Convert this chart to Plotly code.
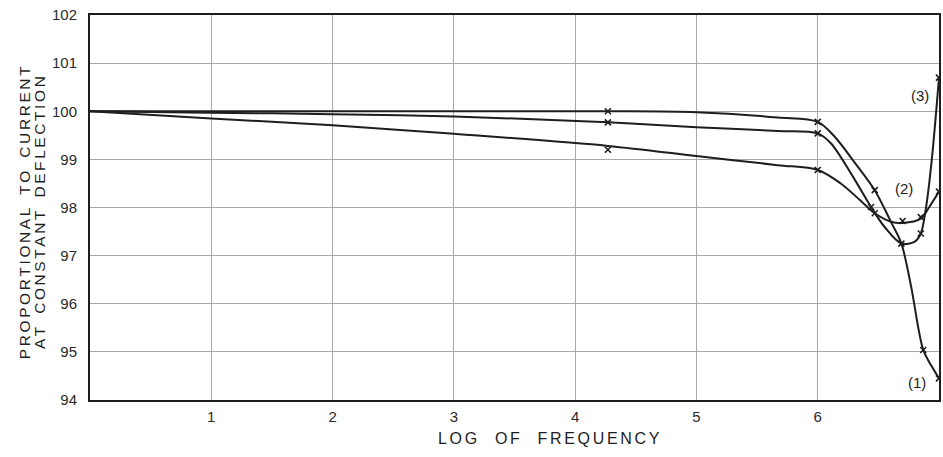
import plotly.graph_objects as go

# ---- data ----
x_c1 = [0, 1, 2, 3, 4.27, 5, 5.67, 6, 6.14, 6.3, 6.47, 6.61, 6.69, 6.77, 6.87, 6.94, 7]
y_c1 = [100, 100, 100, 100, 100, 99.98, 99.87, 99.78, 99.47, 98.95, 98.36, 97.67, 97.25, 96.36, 95.04, 94.70, 94.45]

x_c3 = [0, 1, 2, 3, 4.27, 5, 5.67, 6, 6.11, 6.3, 6.44, 6.55, 6.69, 6.8, 6.85, 6.89, 6.94, 7]
y_c3 = [100, 99.97, 99.94, 99.89, 99.77, 99.67, 99.59, 99.54, 99.33, 98.6, 98.01, 97.60, 97.25, 97.29, 97.46, 97.95, 98.98, 100.7]

x_c2 = [0, 1, 2, 3, 4.27, 5, 5.67, 6, 6.19, 6.35, 6.47, 6.61, 6.7, 6.85, 6.92, 7]
y_c2 = [100, 99.85, 99.71, 99.53, 99.28, 99.07, 98.88, 98.78, 98.5, 98.15, 97.88, 97.70, 97.68, 97.77, 98.01, 98.33]

mx_c1 = [4.27, 6, 6.47, 6.87, 7]
my_c1 = [100, 99.78, 98.36, 95.04, 94.45]
mx_c3 = [4.27, 6, 6.44, 6.69, 6.85, 7]
my_c3 = [99.77, 99.54, 98.01, 97.25, 97.46, 100.7]
mx_c2 = [4.27, 6, 6.47, 6.7, 6.85, 7]
my_c2 = [99.2, 98.78, 97.88, 97.72, 97.8, 98.33]

curve_labels = ["(1)", "(2)", "(3)"]
label_x = [6.82, 6.71, 6.84]
label_y = [94.36, 98.40, 100.33]

x_ticks = [1, 2, 3, 4, 5, 6, 7]
y_ticks = [94, 95, 96, 97, 98, 99, 100, 101, 102]

x_title = "LOG OF FREQUENCY"
y_title_lines = ["PROPORTIONAL TO CURRENT", "AT CONSTANT DEFLECTION"]

INK = "#1e1e1e"
FONT = "Liberation Sans, Arial, sans-serif"


def tracked(s, word_gap=4):
    """Spread letters apart (letter tracking) and widen word gaps."""
    words = s.split(" ")
    return ("\u00a0" * word_gap).join("\u2006".join(w) for w in words)


fig = go.Figure()
for xs, ys in [(x_c1, y_c1), (x_c3, y_c3), (x_c2, y_c2)]:
    fig.add_trace(go.Scatter(x=xs, y=ys, mode="lines",
                             line=dict(color=INK, width=2, shape="spline", smoothing=0.9),
                             showlegend=False, hoverinfo="skip"))
for xs, ys in [(mx_c1, my_c1), (mx_c3, my_c3), (mx_c2, my_c2)]:
    fig.add_trace(go.Scatter(x=xs, y=ys, mode="markers",
                             marker=dict(symbol="x-thin", size=6, color=INK,
                                         line=dict(color=INK, width=1.6)),
                             showlegend=False, hoverinfo="skip"))

for t, lx, ly in zip(curve_labels, label_x, label_y):
    fig.add_annotation(x=lx, y=ly, text=t, showarrow=False,
                       font=dict(family=FONT, size=15, color=INK))

fig.add_annotation(xref="paper", yref="paper", x=(550 - 90) / 851, y=(400 - 438) / 385,
                   xanchor="center", yanchor="middle",
                   text=tracked(x_title, 4), showarrow=False,
                   font=dict(family=FONT, size=16, color=INK))
for line_text, cx in zip(y_title_lines, [25, 40]):
    fig.add_annotation(xref="paper", yref="paper", x=(cx - 90) / 851, y=(400 - 213) / 385,
                       xanchor="center", yanchor="middle",
                       text=tracked(line_text, 3), textangle=-90, showarrow=False,
                       font=dict(family=FONT, size=15.5, color=INK))

fig.update_layout(
    width=943, height=457,
    margin=dict(l=90, r=2, t=15, b=57),
    paper_bgcolor="white", plot_bgcolor="white",
    font=dict(family=FONT, size=15, color="#2a2a2a"),
)
fig.update_xaxes(range=[0, 7], tickvals=x_ticks, ticks="", showgrid=True,
                 gridcolor="#a8a8a8", gridwidth=1, zeroline=False,
                 showline=True, linecolor=INK, linewidth=2, mirror=True,
                 tickfont=dict(size=15), ticklabelstandoff=2)
fig.update_yaxes(range=[94, 102], tickvals=y_ticks, ticks="", showgrid=True,
                 gridcolor="#a8a8a8", gridwidth=1, zeroline=False,
                 showline=True, linecolor=INK, linewidth=2, mirror=True,
                 tickfont=dict(size=15), ticklabelstandoff=8)

fig.write_html("out.html")
